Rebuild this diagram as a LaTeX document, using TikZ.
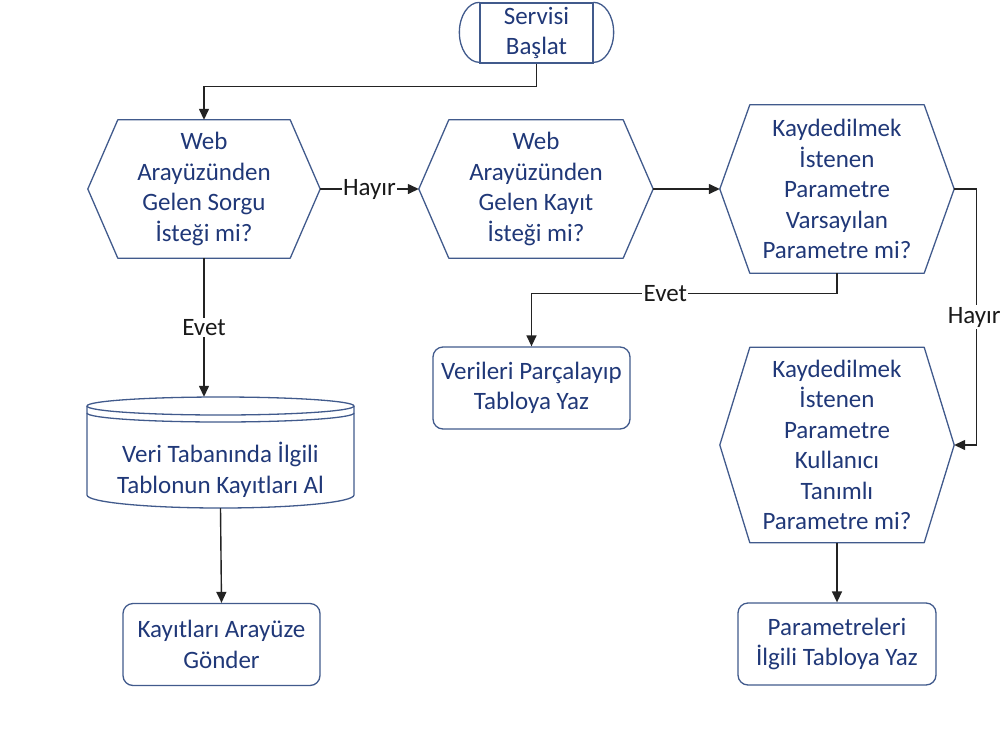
\documentclass[tikz,border=0pt]{standalone}
\usepackage{fontspec}
\setmainfont{Carlito}
\usetikzlibrary{arrows.meta,calc}
\definecolor{shp}{RGB}{65,90,140}
\definecolor{txt}{RGB}{32,56,120}
\definecolor{con}{RGB}{35,35,35}
\newcommand\hexdraw[1]{\draw[shapeline] ([xshift=30pt]#1.north west) -- ([xshift=-30pt]#1.north east) -- (#1.east) -- ([xshift=-30pt]#1.south east) -- ([xshift=30pt]#1.south west) -- (#1.west) -- cycle;}
\begin{document}
\begin{tikzpicture}[x=1pt,y=1pt,
  every node/.style={font=\fontsize{25}{30.5}\selectfont},
  box/.style={text=txt, align=center, inner sep=0pt},
  shapeline/.style={draw=shp, line width=1.3pt, line join=round},
  rbox/.style={box, draw=shp, line width=1.3pt, rounded corners=10pt, minimum width=197pt, minimum height=82pt},
  arr/.style={draw=con, line width=1.4pt, -{Triangle[length=11pt,width=10pt]}},
  lbl/.style={fill=white, inner sep=1.5pt, text=black!90}
]
\useasboundingbox (0,0) rectangle (1005,-740);

% start terminator
\node[box, draw=shp, line width=1.3pt, minimum width=113pt, minimum height=60pt] (start) at (536.5,-33) {Servisi\\Başlat};
\draw[shapeline] (start.north east) arc[start angle=90,end angle=-90,x radius=20,y radius=30];
\draw[shapeline] (start.north west) arc[start angle=90,end angle=270,x radius=20,y radius=30];

% hexagons
\node[box, minimum width=232pt, minimum height=138pt] (h1) at (204,-189) {Web\\Arayüzünden\\Gelen Sorgu\\İsteği mi?};
\hexdraw{h1}
\node[box, minimum width=234pt, minimum height=138pt] (h2) at (536,-189) {Web\\Arayüzünden\\Gelen Kayıt\\İsteği mi?};
\hexdraw{h2}
\node[box, minimum width=234pt, minimum height=168pt] (h3) at (837,-189) {Kaydedilmek\\İstenen\\Parametre\\Varsayılan\\Parametre mi?};
\hexdraw{h3}
\node[box, minimum width=234pt, minimum height=195pt] (h4) at (837,-445) {Kaydedilmek\\İstenen\\Parametre\\Kullanıcı\\Tanımlı\\Parametre mi?};
\hexdraw{h4}

% database cylinder
\node[minimum width=267pt, minimum height=111pt, inner sep=0pt] (dbshape) at (220.5,-452.5) {};
\draw[shapeline] (220.5,-406) ellipse [x radius=133.5, y radius=9];
\draw[shapeline] (87,-413) arc[start angle=180,end angle=360,x radius=133.5,y radius=9];
\draw[shapeline] (87,-406) -- (87,-495) arc[start angle=180,end angle=360,x radius=133.5,y radius=13] -- (354,-406);
\node[box] (dbtext) at (220.5,-470) {Veri Tabanında İlgili\\Tablonun Kayıtları Al};

% process boxes
\node[rbox] (v1) at (531.5,-388) {Verileri Parçalayıp\\Tabloya Yaz};
\node[rbox] (k1) at (221.5,-644.5) {Kayıtları Arayüze\\Gönder};
\node[rbox, minimum width=198pt] (p1) at (837,-644) {Parametreleri\\İlgili Tabloya Yaz};

% connectors
\draw[arr] (start.south) -- ++(0,-23) -| (h1.north);
\draw[arr] (h1.east) -- node[lbl]{Hayır} (h2.west);
\draw[arr] (h2.east) -- (h3.west);
\draw[arr] (h3.south) -- ++(0,-20) coordinate (e1) -- node[lbl,pos=0.562]{Evet} (e1 -| v1.north) -- (v1.north);
\draw[arr] (h3.east) -- ++(22,0) coordinate (r1) -- node[lbl,inner xsep=0pt,xshift=-2pt]{Hayır} (r1 |- h4.east) -- (h4.east);
\draw[arr] (h4.south) -- (p1.north);
\draw[arr] (h1.south) -- node[lbl]{Evet} (h1.south |- dbshape.north);
\draw[arr] (dbshape.south) -- (k1.north);
\end{tikzpicture}
\end{document}
